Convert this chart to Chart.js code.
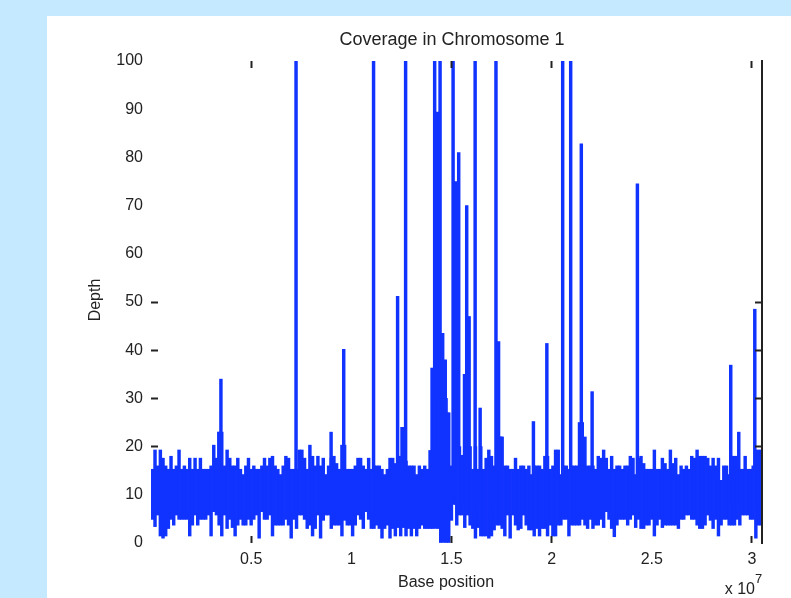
<!DOCTYPE html>
<html>
<head>
<meta charset="utf-8">
<title>Coverage in Chromosome 1</title>
<script src="https://cdn.jsdelivr.net/npm/chart.js@4/dist/chart.umd.min.js"></script>
<style>
  html, body { margin: 0; padding: 0; background: #c5e9ff; overflow: hidden; }
  #figure { position: absolute; left: 47px; top: 16px; width: 744px; height: 582px; background: #fff; }
</style>
</head>
<body>
<div id="figure"><canvas id="coverage" width="744" height="582"></canvas></div>
<script>
// x values are in units of 1e7 bases
const binStart = 0.0067;
const binStep = 0.01333;

// top of the coverage band, one value per bin
const bandUpper = [
  15.3,19.3,16,19.3,17.6,16,15.3,18,15.3,16,
  19.3,15.3,16,15.3,17.6,15.3,17.6,15.3,17.6,15.3,
  15.3,15.3,16,20.3,17.6,23,23,16,19.3,17.6,
  16,16,17.6,15.3,14.2,16,17.6,15.3,16,15.3,
  15.3,16,17.6,16,17.6,18,16,15.3,14.2,16,
  18,17.6,15.3,15.3,15.3,19.3,19.3,17.6,15.3,20.3,
  18,16,18,16,17.6,14.2,16,17.6,18,16.5,
  15.3,20.3,20.3,15.3,15.3,15.3,16,17.6,17.6,16,
  15.3,17.6,15.3,16,16,16,15.3,14.2,15.3,17.6,
  17.6,16.5,16,18,24,17,16,16,16,14.2,
  16,15.3,16,15.3,19.2,19.2,30,30,30,30,
  30,27,16,20,20,20,18.2,20,20,20,
  15.3,20,15.3,20,15.3,17.6,19.3,18,16,20,
  22,22,16,16,15.3,15.3,17.6,15.3,16,16,
  15.3,16,14.2,16,16,16,15.3,18,18,15.3,
  16,19.3,19.3,14.2,16,16,15.3,16,16,16,
  16,25,22,16,16,16,15.3,18,17.6,19.3,
  17.6,15.3,18,15.3,16,16,15.3,16,16,18,
  17.6,14.2,17.6,18,16.5,15.3,15.3,15.3,19.3,15.3,
  15.3,17.6,16.5,15.3,19.3,16.5,17.6,14.2,16,15.3,
  16,15.3,18,17.6,19.3,18,18,18,17.6,16,
  17.6,16,17.6,13,16,16,14.2,18,18,18,
  15.3,15.3,18,15.3,15.3,16,19.3,19.3,19.3
];

// bottom of the coverage band
const bandLower = [
  4.9,3.4,5.8,1.45,1,1.45,3,4.9,3.7,5.8,
  4.9,4.9,4.9,4.9,1.45,3.7,5.8,3.7,4.9,4.9,
  4.9,5.8,1.45,6.5,5.8,3.7,1.45,5.8,3,4.9,
  3.2,1.45,3.7,4.9,3.7,3.7,4.9,3.7,4.9,5.8,
  1,6.5,4.9,4.9,5.8,1.45,3.7,3.7,3.7,3.7,
  4.9,3.7,1,4.9,3,5.8,5.8,4.9,3,3.7,
  1.45,3,5.8,1,4.7,5.8,5.8,3,3.7,3.7,
  3.7,1.45,4.7,3.7,3.7,1.45,3.7,5.8,4.9,3,
  6.5,4.9,3,3,3.7,3,1,3,3.7,1,
  3,1.45,3.2,1.45,3.2,1.45,3,1.45,3,1.45,
  3,3.7,3,3,3,3,3,3,0,0,
  0,0,4.7,9.3,3.7,5.8,5.8,3.2,5.8,3.7,
  3,1,3.2,1.45,1.45,1.45,1,1.45,2.7,3.7,
  3.7,3,1.45,5.8,1,5.8,3.7,2.7,3,5.8,
  3.7,2.7,2.7,1.45,3,1.45,3,3,1.45,3.7,
  1.45,1.45,3.7,3.7,4.9,4.9,1.45,3.7,3.7,3.7,
  3.7,4.9,3.7,3,4.9,3,3.7,3.7,4.9,3.2,
  6.5,4.9,3,1.3,3.7,4.9,4.9,4.9,3.7,4.9,
  5.8,3.2,4.9,3,3,3.7,3.7,4.9,1.45,3.7,
  4.9,3.2,3.7,3.7,3.7,3.7,3.7,3,4.9,4.9,
  5.8,5.8,4.9,4.9,3.7,3,3,3.7,5.8,4.7,
  3,4.9,1.45,3.7,4.9,4.9,3.7,3.7,3.7,4.9,
  3.7,5.8,5.8,5.8,4.9,4.9,1,3.7,3.7
];

// spikes that rise out of the band
const spikePositions = [
  0.339,0.349,0.724,0.899,0.962,1.111,1.231,1.253,1.271,1.403,
  1.416,1.429,1.443,1.456,1.469,1.483,1.508,1.521,1.536,1.565,
  1.576,1.588,1.618,1.643,1.722,1.735,1.747,1.909,1.976,2.055,
  2.095,2.139,2.148,2.202,2.428,2.894,2.934,3.014
];
const spikeDepths = [
  23,34,100,23,40.2,100,51.2,24,100,36.3,
  100,89.4,100,43.5,38,27,100,75,81,35,
  70,47,100,28,100,41.8,22,25.2,41.4,100,
  100,25,82.8,31.4,74.5,36.9,23,48.5
];
const spikeBase = 8;

// tick marks that show in the picture
const xTickValues = [0.5, 1.5, 2, 3];
const yTickValues = [20, 30, 40, 50];

const bandData = bandUpper.map((hi, i) => ({ x: binStart + binStep * i, y: [bandLower[i], hi] }));
const spikeData = spikePositions.map((x, i) => ({ x: x, y: [spikeBase, spikeDepths[i]] }));

const inkColor = '#222';
const tickFont = { family: '"Liberation Sans"', size: 16 };

function markColor(list) {
  return ctx => (ctx.tick && list.includes(ctx.tick.value)) ? inkColor : 'rgba(0,0,0,0)';
}

const markGrid = list => ({
  offset: false,
  drawOnChartArea: false,
  drawTicks: true,
  tickLength: -7,
  tickWidth: 2,
  tickColor: markColor(list),
  z: 1
});

// title and axis labels sit off the centre of the axes, so they are placed here
const labelsPlugin = {
  id: 'labels',
  afterDraw(chart) {
    const c = chart.ctx;
    c.save();
    c.fillStyle = inkColor;
    c.textBaseline = 'middle';
    c.textAlign = 'center';
    c.font = '18px "Liberation Sans"';
    c.fillText('Coverage in Chromosome 1', 405, 24);
    c.font = '16px "Liberation Sans"';
    c.fillText('Base position', 399, 567);
    c.textAlign = 'right';
    c.fillText('x 10', 708, 574);
    c.textAlign = 'left';
    c.font = '13px "Liberation Sans"';
    c.fillText('7', 708, 563);
    c.translate(49, 284);
    c.rotate(-Math.PI / 2);
    c.textAlign = 'center';
    c.font = '16px "Liberation Sans"';
    c.fillText('Depth', 0, 0);
    c.restore();
  }
};

new Chart(document.getElementById('coverage'), {
  type: 'bar',
  data: {
    datasets: [
      { label: 'Band', data: bandData, backgroundColor: '#1133ff', barThickness: 2.8, grouped: false },
      { label: 'Spikes', data: spikeData, backgroundColor: '#1133ff', barThickness: 2.8, grouped: false }
    ]
  },
  options: {
    responsive: false,
    animation: false,
    layout: { padding: { left: 0, top: 45, right: 29, bottom: 0 } },
    plugins: { legend: { display: false }, title: { display: false }, tooltip: { enabled: false } },
    scales: {
      x: {
        type: 'linear',
        offset: false,
        min: 0,
        max: 3.05,
        border: { display: false },
        grid: markGrid(xTickValues),
        ticks: {
          stepSize: 0.5,
          includeBounds: false,
          autoSkip: false,
          maxRotation: 0,
          padding: 14,
          color: inkColor,
          font: tickFont,
          // no label shows at the origin of this axis
          callback: v => (v === 0 ? '' : String(v))
        },
        afterFit: s => { s.height = 55; }
      },
      xTop: {
        type: 'linear',
        position: 'top',
        offset: false,
        min: 0,
        max: 3.05,
        border: { display: false },
        grid: markGrid(xTickValues),
        ticks: { stepSize: 0.5, includeBounds: false, display: false },
        afterFit: s => { s.height = 0; }
      },
      y: {
        type: 'linear',
        min: 0,
        max: 100,
        border: { display: false },
        grid: markGrid(yTickValues),
        ticks: { stepSize: 10, autoSkip: false, padding: 15, color: inkColor, font: tickFont },
        afterFit: s => { s.width = 104; }
      },
      yRight: {
        type: 'linear',
        position: 'right',
        min: 0,
        max: 100,
        border: { display: true, color: inkColor, width: 2, z: 1 },
        grid: markGrid(yTickValues),
        ticks: { stepSize: 10, display: false },
        afterFit: s => { s.width = 0; }
      }
    }
  },
  plugins: [labelsPlugin]
});
</script>
</body>
</html>
